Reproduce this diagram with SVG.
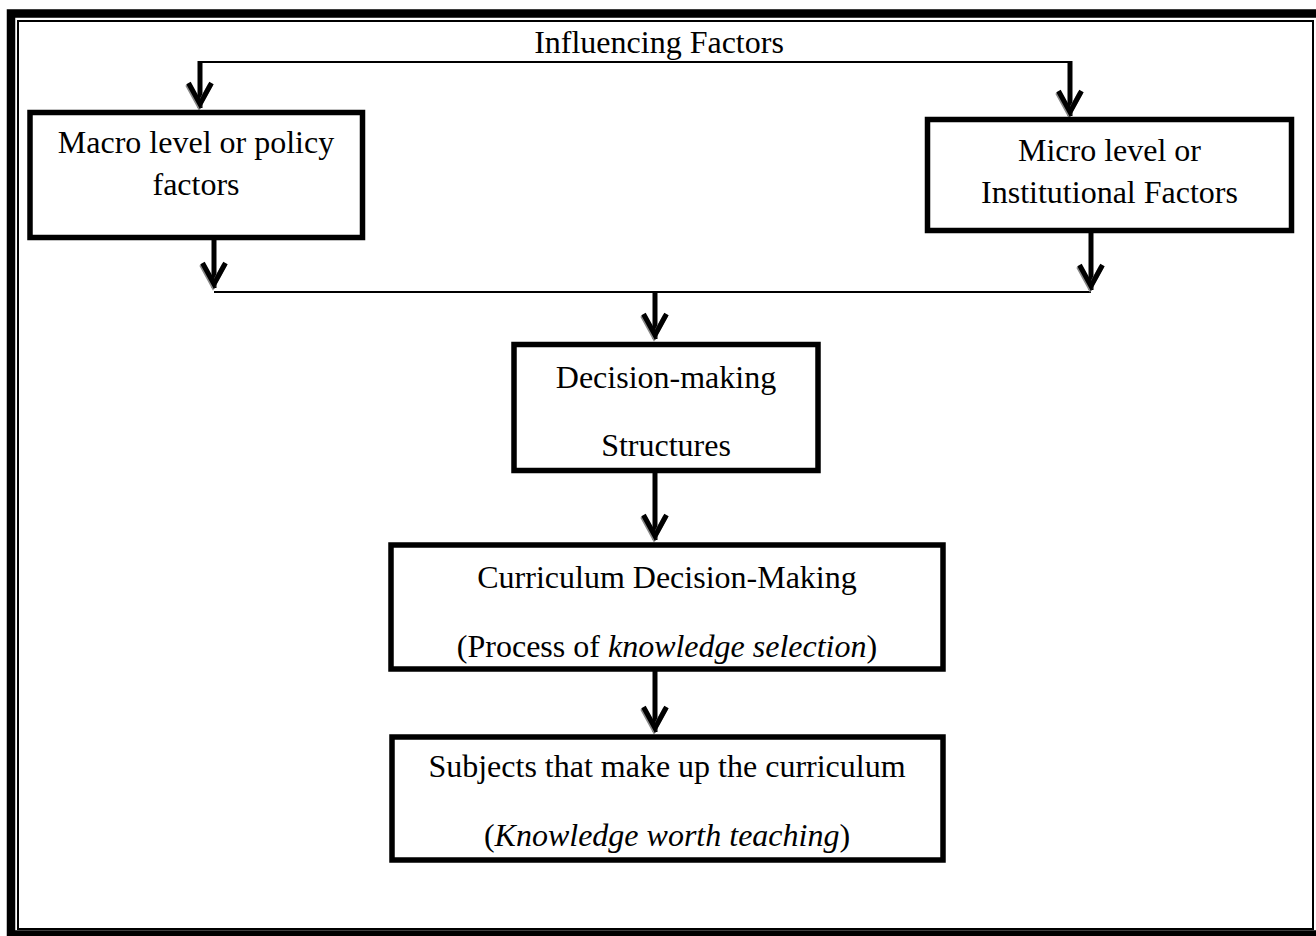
<svg xmlns="http://www.w3.org/2000/svg" width="1316" height="936" viewBox="0 0 1316 936">
  <style>
    .box { fill: #ffffff; stroke: #000000; stroke-width: 5.5; }
    .txt { font-family: "Liberation Serif", "Times New Roman", serif; font-size: 32px; fill: #000000; text-anchor: middle; }
    .it { font-style: italic; }
    .thin { fill: none; stroke: #000000; stroke-width: 2; }
    .shaft { fill: none; stroke: #000000; stroke-width: 5; marker-end: url(#chev); }
  </style>
  <defs>
    <marker id="chev" markerUnits="userSpaceOnUse" markerWidth="40" markerHeight="40" viewBox="-30 -20 40 40" refX="4" refY="0" orient="auto" overflow="visible">
      <path d="M -21 -11.5 L 0 0 L -21 11.5" fill="none" stroke="#8a8a8a" stroke-width="5" stroke-linejoin="miter" transform="translate(1.5,1)"/>
      <path d="M -21 -11.5 L 0 0 L -21 11.5" fill="none" stroke="#000000" stroke-width="5" stroke-linejoin="miter"/>
    </marker>
  </defs>
  <rect width="1316" height="936" fill="#ffffff"/>
  <g id="frame">
    <rect x="11" y="13.5" width="1310" height="921" fill="none" stroke="#000000" stroke-width="8.5"/>
    <rect x="18" y="21" width="1295" height="908" fill="none" stroke="#000000" stroke-width="2"/>
  </g>
  <g id="connectors">
    <path class="thin" d="M 200 62 L 1070 62"/>
    <path class="shaft" d="M 200 61 L 200 108"/>
    <path class="shaft" d="M 1070 61 L 1070 116"/>
    <path class="thin" d="M 214 292 L 1091 292"/>
    <path class="shaft" d="M 214 238 L 214 288"/>
    <path class="shaft" d="M 1091 231 L 1091 290"/>
    <path class="shaft" d="M 655 291 L 655 339"/>
    <path class="shaft" d="M 655 472 L 655 540"/>
    <path class="shaft" d="M 655 670 L 655 732"/>
  </g>
  <g id="title">
    <text class="txt" x="659" y="53">Influencing Factors</text>
  </g>
  <g id="macro">
    <rect class="box" x="30" y="112.5" width="332.5" height="125"/>
    <text class="txt" x="196" y="153">Macro level or policy</text>
    <text class="txt" x="196" y="195">factors</text>
  </g>
  <g id="micro">
    <rect class="box" x="927.5" y="119.5" width="364" height="111"/>
    <text class="txt" x="1109.5" y="161">Micro level or</text>
    <text class="txt" x="1109.5" y="203">Institutional Factors</text>
  </g>
  <g id="decision">
    <rect class="box" x="514" y="344.5" width="304" height="126"/>
    <text class="txt" x="666" y="388">Decision-making</text>
    <text class="txt" x="666" y="456">Structures</text>
  </g>
  <g id="curriculum">
    <rect class="box" x="391" y="545" width="552" height="124"/>
    <text class="txt" x="667" y="588">Curriculum Decision-Making</text>
    <text class="txt" x="667" y="657">(Process of <tspan class="it">knowledge selection</tspan>)</text>
  </g>
  <g id="subjects">
    <rect class="box" x="392" y="737" width="551" height="123"/>
    <text class="txt" x="667" y="777">Subjects that make up the curriculum</text>
    <text class="txt" x="667" y="846">(<tspan class="it">Knowledge worth teaching</tspan>)</text>
  </g>
</svg>
